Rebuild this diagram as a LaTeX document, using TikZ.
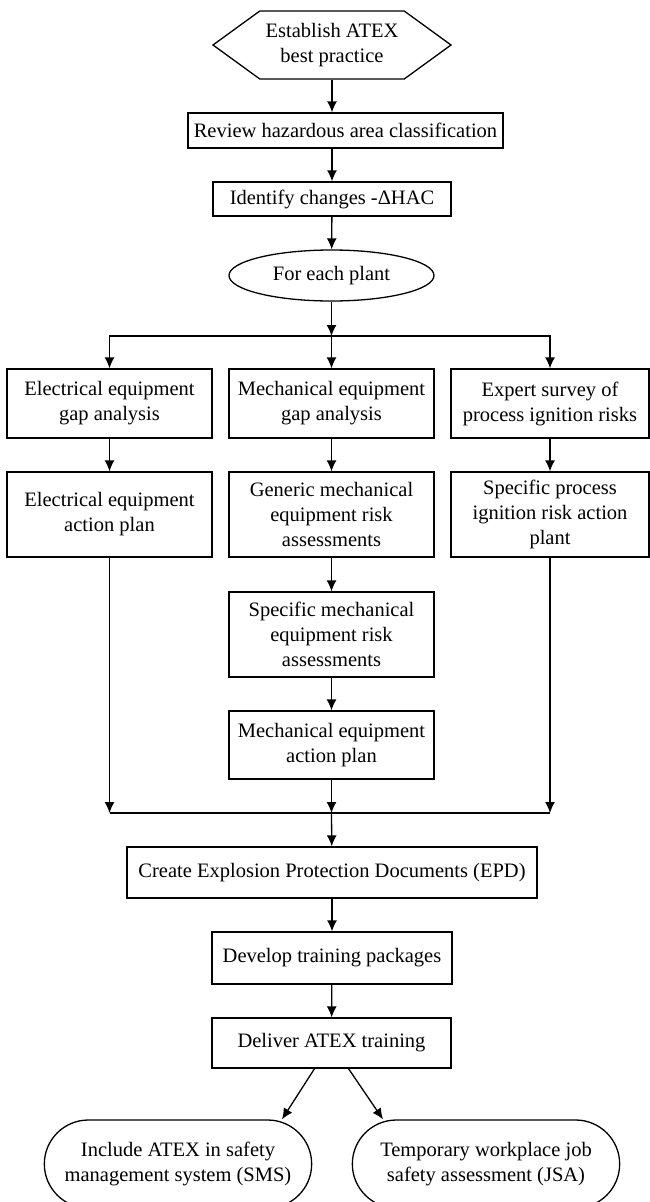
\documentclass[tikz,border=0pt]{standalone}
\usepackage{fontspec}
\setmainfont{Liberation Serif}
\usetikzlibrary{arrows,arrows.meta,calc,positioning,shapes}

\begin{document}
\begin{tikzpicture}[x=1pt,y=-1pt,line width=1.3pt,
        font=\fontsize{20.5}{25}\selectfont,
        box/.style={draw,rectangle,align=center,inner sep=2pt},
        flow/.style={-{Latex[length=11pt,width=10pt]}}]
            \useasboundingbox (0,0) rectangle (649,1202);
            % top of the chart
            \node[draw,signal,signal to=west and east,signal pointer angle=72,minimum width=238pt,minimum height=68pt,inner sep=0pt,align=center] (best) at (332,45) {Establish ATEX\\best practice};
            \node[box,minimum width=315pt,minimum height=35pt] (review) at (345.5,130.5) {Review hazardous area classification};
            \node[box,minimum width=238pt,minimum height=34pt] (ident) at (332,199) {Identify changes -ΔHAC};
            \node[draw,ellipse,minimum width=205pt,minimum height=51pt,inner sep=0pt] (plant) at (331.5,275.5) {For each plant};
            \coordinate (split) at (331.5,336);
            % three columns
            \node[box,minimum width=205pt,minimum height=69pt] (elgap) at (109.5,403.5) {Electrical equipment\\gap analysis};
            \node[box,minimum width=205pt,minimum height=69pt] (megap) at (331.5,403.5) {Mechanical equipment\\gap analysis};
            \node[box,minimum width=198pt,minimum height=69pt] (exsurv) at (550,403.5) {Expert survey of\\process ignition risks};
            \node[box,minimum width=205pt,minimum height=85pt] (elplan) at (109.5,514.5) {Electrical equipment\\action plan};
            \node[box,minimum width=205pt,minimum height=85pt] (genrisk) at (331.5,514.5) {Generic mechanical\\equipment risk\\assessments};
            \node[box,minimum width=198pt,minimum height=85pt] (spplan) at (550,514.5) {Specific process\\ignition risk action\\plant};
            \node[box,minimum width=205pt,minimum height=85pt] (sprisk) at (331.5,634.5) {Specific mechanical\\equipment risk\\assessments};
            \node[box,minimum width=205pt,minimum height=68pt] (meplan) at (331.5,745) {Mechanical equipment\\action plan};
            \coordinate (join) at (331.5,813);
            % bottom of the chart
            \node[box,minimum width=410pt,minimum height=51pt] (epd) at (332,872.5) {Create Explosion Protection Documents (EPD)};
            \node[box,minimum width=240pt,minimum height=52pt] (develop) at (332,958) {Develop training packages};
            \node[box,minimum width=239pt,minimum height=50pt] (deliver) at (331.5,1043) {Deliver ATEX training};
            \node[draw,rounded rectangle,minimum width=274pt,minimum height=88pt,align=center] (sms) at (178,1164) {Include ATEX in safety\\management system (SMS)};
            \node[draw,rounded rectangle,minimum width=274pt,minimum height=88pt,align=center] (jsa) at (486,1164) {Temporary workplace job\\safety assessment (JSA)};
            \draw[flow] (best.south) to (best.south |- review.north);
            \draw[flow] (ident.north |- review.south) to (ident);
            \draw[flow] (ident) to (plant);
            \draw[flow] (plant) to (split);
            \draw[flow] (split) -| (elgap);
            \draw[flow] (split) -| (exsurv);
            \draw[flow] (split) to (megap);
            \draw[flow] (elgap) to (elplan);
            \draw[flow] (megap) to (genrisk);
            \draw[flow] (exsurv) to (spplan);
            \draw[flow] (genrisk) to (sprisk);
            \draw[flow] (sprisk) to (meplan);
            \draw[flow] (elplan) to (elplan |- join);
            \draw[flow] (spplan) to (spplan |- join);
            \draw[flow] (meplan) to (join);
            \draw (elplan |- join) to (spplan |- join);
            \draw[flow] (join) to (epd);
            \draw[flow] (epd) to (develop);
            \draw[flow] (develop) to (deliver);
            \draw[flow] ([xshift=-17pt]deliver.south) to ([xshift=104pt]sms.north);
            \draw[flow] ([xshift=17pt]deliver.south) to ([xshift=-103pt]jsa.north);
        \end{tikzpicture}
\end{document}
